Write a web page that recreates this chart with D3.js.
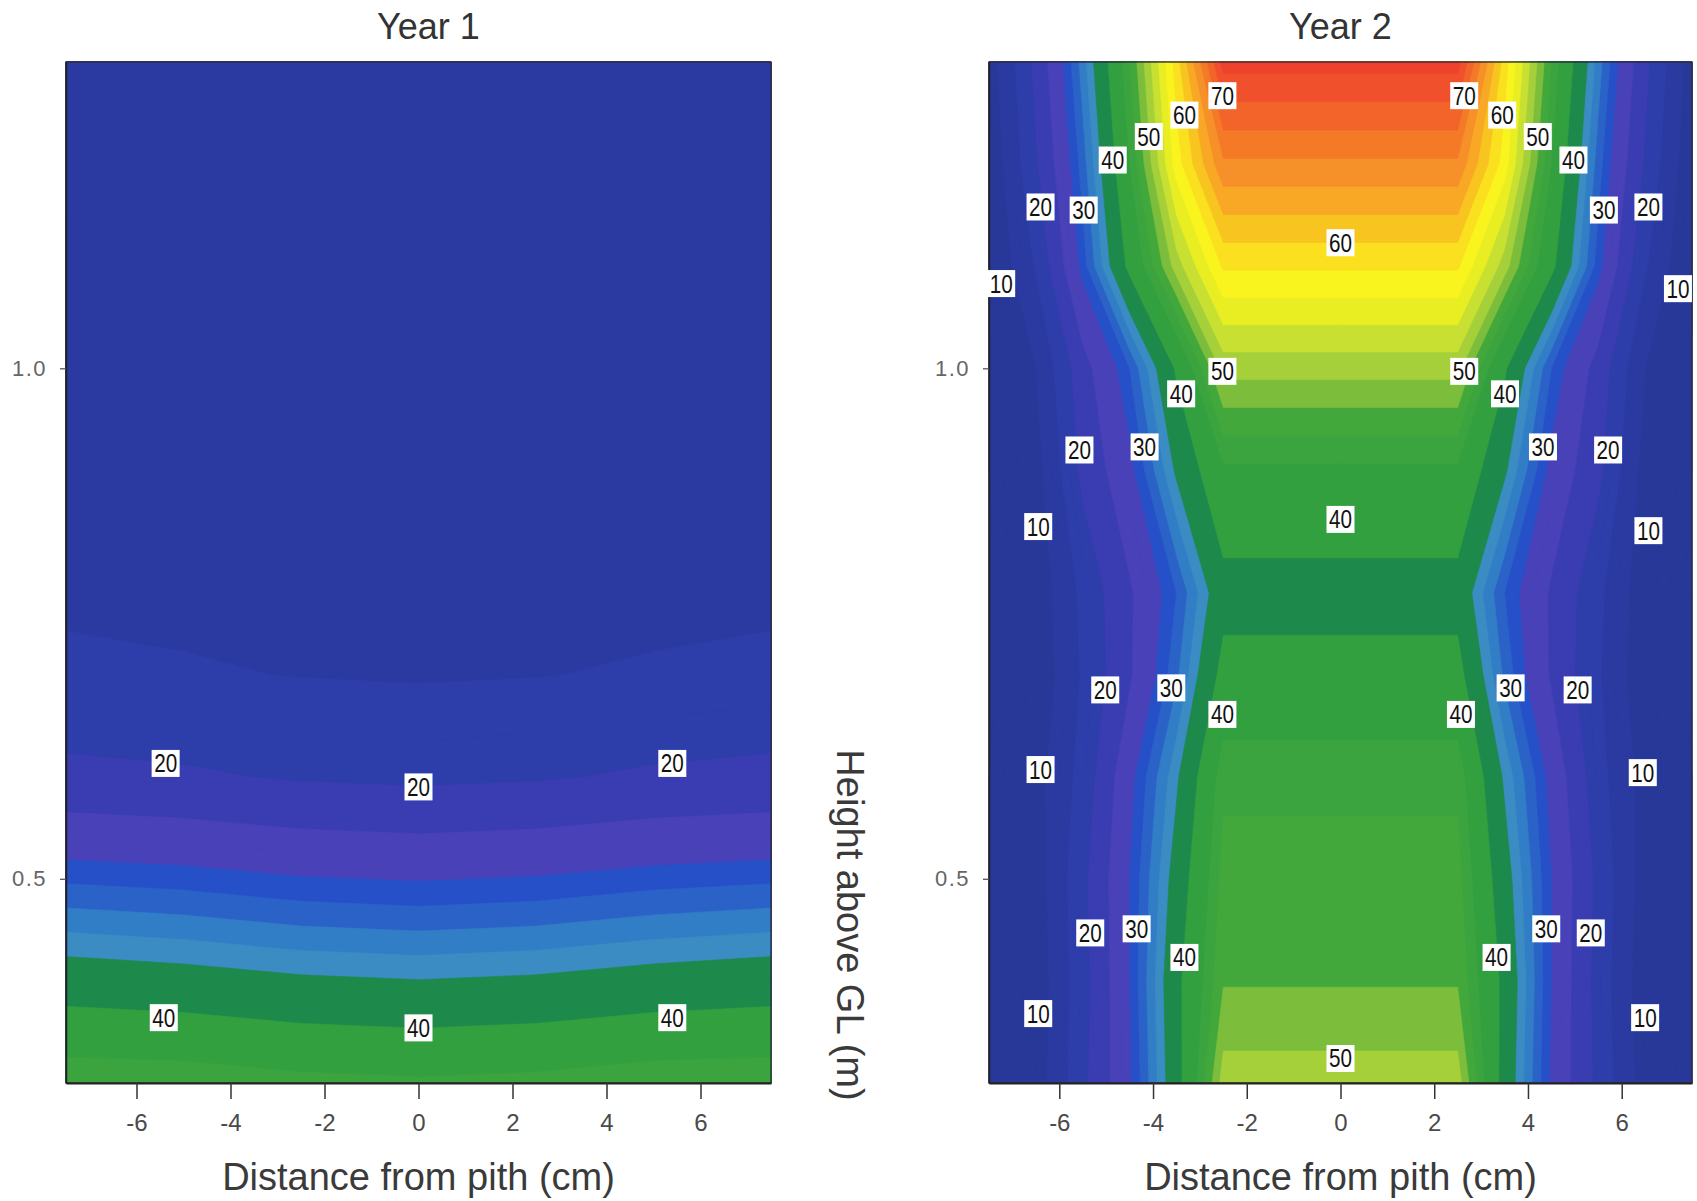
<!DOCTYPE html>
<html><head><meta charset="utf-8">
<script src="https://cdn.jsdelivr.net/npm/d3@7"></script>
<style>
body{margin:0;background:#fff;}
svg{display:block;}
</style></head><body>
<svg id="chart" width="1697" height="1201"></svg>
<script>
// ---------- data ----------
const panelTitles = ["Year 1", "Year 2"];
const xTicks = [-6, -4, -2, 0, 2, 4, 6];
const xTickLabels = ["-6", "-4", "-2", "0", "2", "4", "6"];
const yTicks = [0.5, 1.0];
const yTickLabels = ["0.5", "1.0"];
const xTitle = "Distance from pith (cm)";
const yTitle = "Height above GL (m)";

// Year 1 grid: columns = distance from pith (cm), rows = height (m)
const year1X = [-7.5, -5, -2.5, 0, 2.5, 5, 7.5];
const year1H = [0.3, 0.35, 0.4, 0.45, 0.5, 0.55, 0.6, 0.7, 0.8, 1.0, 1.3];
const year1Values = [
  [46.0, 45.8, 44.9, 44.5, 44.9, 45.8, 46.0],
  [42.0, 41.6, 40.7, 40.3, 40.7, 41.6, 42.0],
  [38.0, 37.4, 36.5, 36.1, 36.5, 37.4, 38.0],
  [33.8, 33.2, 32.3, 31.9, 32.3, 33.2, 33.8],
  [29.6, 29.1, 28.2, 27.8, 28.2, 29.1, 29.6],
  [25.3, 24.8, 23.9, 23.5, 23.9, 24.8, 25.3],
  [21.0, 20.5, 19.6, 19.2, 19.6, 20.5, 21.0],
  [16.6, 16.3, 15.9, 15.7, 15.9, 16.3, 16.6],
  [15.2, 15.0, 14.8, 14.7, 14.8, 15.0, 15.2],
  [14.5, 14.3, 14.1, 14.0, 14.1, 14.3, 14.5],
  [13.5, 13.3, 13.1, 13.0, 13.1, 13.3, 13.5]
];
const year1Labels = [
  {v: 20, x: -5.38, h: 0.613}, {v: 20, x: 0, h: 0.590}, {v: 20, x: 5.40, h: 0.613},
  {v: 40, x: -5.42, h: 0.364}, {v: 40, x: 0, h: 0.354}, {v: 40, x: 5.40, h: 0.364}
];

// Year 2 grid
const year2X = [-7.5, -6.5, -5.5, -4.5, -3.5, -2.5, 0, 2.5, 3.5, 4.5, 5.5, 6.5, 7.5];
const year2H = [0.3, 0.4, 0.5, 0.6, 0.7, 0.78, 0.9, 1.0, 1.1, 1.2, 1.3];
const year2Values = [
  [4, 10, 19, 27.5, 38.5, 51, 51, 51, 38.5, 27.5, 19, 10, 4],
  [4, 9.5, 18.5, 28, 39, 47.8, 47.8, 47.8, 39, 28, 18.5, 9.5, 4],
  [4, 10, 19, 28, 37.5, 46.8, 46.8, 46.8, 37.5, 28, 19, 10, 4],
  [4, 10.5, 17.5, 27, 35.5, 45.5, 45.5, 45.5, 35.5, 27, 17.5, 10.5, 4],
  [3, 9, 16.5, 23.5, 31.5, 41.3, 41.3, 41.3, 31.5, 23.5, 16.5, 9, 3],
  [3, 9.5, 17, 23.5, 30, 38.6, 38.6, 38.6, 30, 23.5, 17, 9.5, 3],
  [4, 10.5, 21, 27, 36.5, 43.5, 43.5, 43.5, 36.5, 27, 21, 10.5, 4],
  [5, 12, 22.5, 30, 40.5, 50.8, 50.8, 50.8, 40.5, 30, 22.5, 12, 5],
  [8, 16.5, 29, 41, 51, 58.3, 58.3, 58.3, 51, 41, 29, 16.5, 8],
  [9, 19.5, 31, 44, 57, 65.6, 65.6, 65.6, 57, 44, 31, 19.5, 9],
  [10, 21, 33, 46, 59, 72.8, 72.8, 72.8, 59, 46, 33, 21, 10]
];
const year2Labels = [
  {v: 70, x: -2.52, h: 1.267}, {v: 70, x: 2.64, h: 1.267},
  {v: 60, x: -3.33, h: 1.248}, {v: 60, x: 3.45, h: 1.248},
  {v: 50, x: -4.09, h: 1.227}, {v: 50, x: 4.21, h: 1.227},
  {v: 40, x: -4.86, h: 1.204}, {v: 40, x: 4.97, h: 1.204},
  {v: 30, x: -5.48, h: 1.155}, {v: 30, x: 5.62, h: 1.155},
  {v: 20, x: -6.40, h: 1.158}, {v: 20, x: 6.57, h: 1.158},
  {v: 10, x: -7.24, h: 1.083}, {v: 10, x: 7.20, h: 1.078},
  {v: 60, x: 0, h: 1.123},
  {v: 50, x: -2.52, h: 0.997}, {v: 50, x: 2.64, h: 0.997},
  {v: 40, x: -3.40, h: 0.975}, {v: 40, x: 3.51, h: 0.975},
  {v: 30, x: -4.18, h: 0.923}, {v: 30, x: 4.32, h: 0.923},
  {v: 20, x: -5.57, h: 0.920}, {v: 20, x: 5.71, h: 0.920},
  {v: 10, x: -6.45, h: 0.845}, {v: 10, x: 6.57, h: 0.841},
  {v: 40, x: 0, h: 0.852},
  {v: 20, x: -5.02, h: 0.685}, {v: 20, x: 5.06, h: 0.685},
  {v: 30, x: -3.61, h: 0.687}, {v: 30, x: 3.63, h: 0.687},
  {v: 40, x: -2.52, h: 0.661}, {v: 40, x: 2.57, h: 0.661},
  {v: 10, x: -6.40, h: 0.607}, {v: 10, x: 6.45, h: 0.604},
  {v: 20, x: -5.34, h: 0.447}, {v: 20, x: 5.34, h: 0.447},
  {v: 30, x: -4.35, h: 0.451}, {v: 30, x: 4.39, h: 0.451},
  {v: 40, x: -3.33, h: 0.423}, {v: 40, x: 3.33, h: 0.423},
  {v: 10, x: -6.45, h: 0.368}, {v: 10, x: 6.50, h: 0.364},
  {v: 50, x: 0, h: 0.324}
];

// contour fill levels and colours
const levels = d3.range(0, 80, 2);
const colorBreaks = [12,16,20,24,28,30,32,34,36,40,44,46,48,50,52,54,56,58,60,62,64,66,68,70,72,74];
const bandPalette = ["#283899","#2a3aa0","#2d3daa","#3a3db2","#4841b7","#2650c8","#2a62c8","#327ec6","#3a8cc2","#1d8a4c","#33a040","#3ba43e","#42a83c","#7cbe3c","#a6d03a","#c8e032","#e8ee22","#faf41e","#fae01e","#f8c420","#f8a824","#f69028","#f47a28","#f2642a","#f0502c","#ee422c","#ec382c"];
const bandColor = d3.scaleThreshold().domain(colorBreaks).range(bandPalette);

// ---------- drawing ----------
const svg = d3.select("#chart");
svg.append("rect").attr("width", 1697).attr("height", 1201).attr("fill", "#fff");
const yS = d3.scaleLinear().domain([0.3, 1.3]).range([1083, 62]);

const panels = [
  {title: panelTitles[0], X: year1X, Hs: year1H, grid: year1Values, labels: year1Labels, range: [66, 771], titleShift: 10},
  {title: panelTitles[1], X: year2X, Hs: year2H, grid: year2Values, labels: year2Labels, range: [989, 1692], titleShift: 0}
];

const tickFont = "'Liberation Sans Narrow','Liberation Sans',Arial,sans-serif";
const titleFont = "'Liberation Sans',Arial,sans-serif";

panels.forEach((p) => {
  const xS = d3.scaleLinear().domain([-7.5, 7.5]).range(p.range);
  const g = svg.append("g");
  const n = p.X.length, m = p.Hs.length;
  const gx = d3.scaleLinear().domain(p.X.map((_, i) => i + 0.5)).range(p.X).clamp(true);
  const gy = d3.scaleLinear().domain(p.Hs.map((_, i) => i + 0.5)).range(p.Hs).clamp(true);
  const contours = d3.contours().size([n, m]).thresholds(levels)(p.grid.flat());
  const toPath = c => c.coordinates.map(poly => poly.map(ring =>
      "M" + ring.map(([a, b]) => xS(gx(a)).toFixed(2) + "," + yS(gy(b)).toFixed(2)).join("L") + "Z").join("")).join("");
  g.selectAll("path.band").data(contours.filter(c => c.coordinates.length))
    .join("path").attr("class", "band")
    .attr("d", toPath)
    .attr("fill", c => bandColor(c.value))
    .attr("fill-rule", "evenodd")
    .attr("stroke", c => bandColor(c.value))
    .attr("stroke-width", 0.6);

  // frame
  g.append("rect").attr("x", p.range[0]).attr("y", yS(1.3))
    .attr("width", p.range[1] - p.range[0]).attr("height", yS(0.3) - yS(1.3))
    .attr("fill", "none").attr("stroke", "#2b2b33").attr("stroke-width", 1.3);

  // x axis
  const xa = g.append("g").attr("transform", `translate(0,${yS(0.3)})`)
    .call(d3.axisBottom(xS).tickValues(xTicks).tickFormat((d, i) => xTickLabels[i]).tickSize(16).tickPadding(15).tickSizeOuter(0));
  xa.select(".domain").attr("stroke", "#222").attr("stroke-width", 2);
  xa.selectAll(".tick line").attr("stroke", "#333").attr("stroke-width", 1.5);
  xa.selectAll(".tick text").attr("font-size", 24).attr("font-family", tickFont).attr("fill", "#4a4a4a");

  // y axis
  const ya = g.append("g").attr("transform", `translate(${p.range[0]},0)`)
    .call(d3.axisLeft(yS).tickValues(yTicks).tickFormat((d, i) => yTickLabels[i]).tickSize(6).tickPadding(13).tickSizeOuter(0));
  ya.select(".domain").attr("stroke", "#222").attr("stroke-width", 1.5);
  ya.selectAll(".tick line").attr("stroke", "#555").attr("stroke-width", 1.3);
  ya.selectAll(".tick text").attr("font-size", 22).attr("font-family", titleFont)
    .attr("fill", "#666").attr("letter-spacing", 1.5);

  // contour labels
  const lab = g.selectAll("g.lab").data(p.labels).join("g").attr("class", "lab")
    .attr("transform", d => `translate(${xS(d.x)},${yS(d.h)})`);
  lab.append("rect").attr("x", -14).attr("y", -13.5).attr("width", 28).attr("height", 27).attr("fill", "#fff");
  lab.append("text").attr("text-anchor", "middle").attr("dy", "0.36em")
    .attr("font-size", 25).attr("font-family", tickFont).attr("fill", "#111")
    .attr("textLength", 23).attr("lengthAdjust", "spacingAndGlyphs")
    .text(d => d.v);

  // titles
  const cx = xS(0);
  svg.append("text").attr("x", cx + p.titleShift).attr("y", 39).attr("text-anchor", "middle")
    .attr("font-size", 36).attr("font-family", titleFont).attr("fill", "#333").text(p.title);
  svg.append("text").attr("x", cx).attr("y", 1190).attr("text-anchor", "middle")
    .attr("font-size", 38).attr("font-family", titleFont).attr("fill", "#3a3a3a").text(xTitle);
});

svg.append("text").attr("transform", "translate(850,925) rotate(90)")
  .attr("text-anchor", "middle").attr("dy", "0.35em")
  .attr("font-size", 38).attr("font-family", titleFont).attr("fill", "#3a3a3a").text(yTitle);
</script>
</body></html>
